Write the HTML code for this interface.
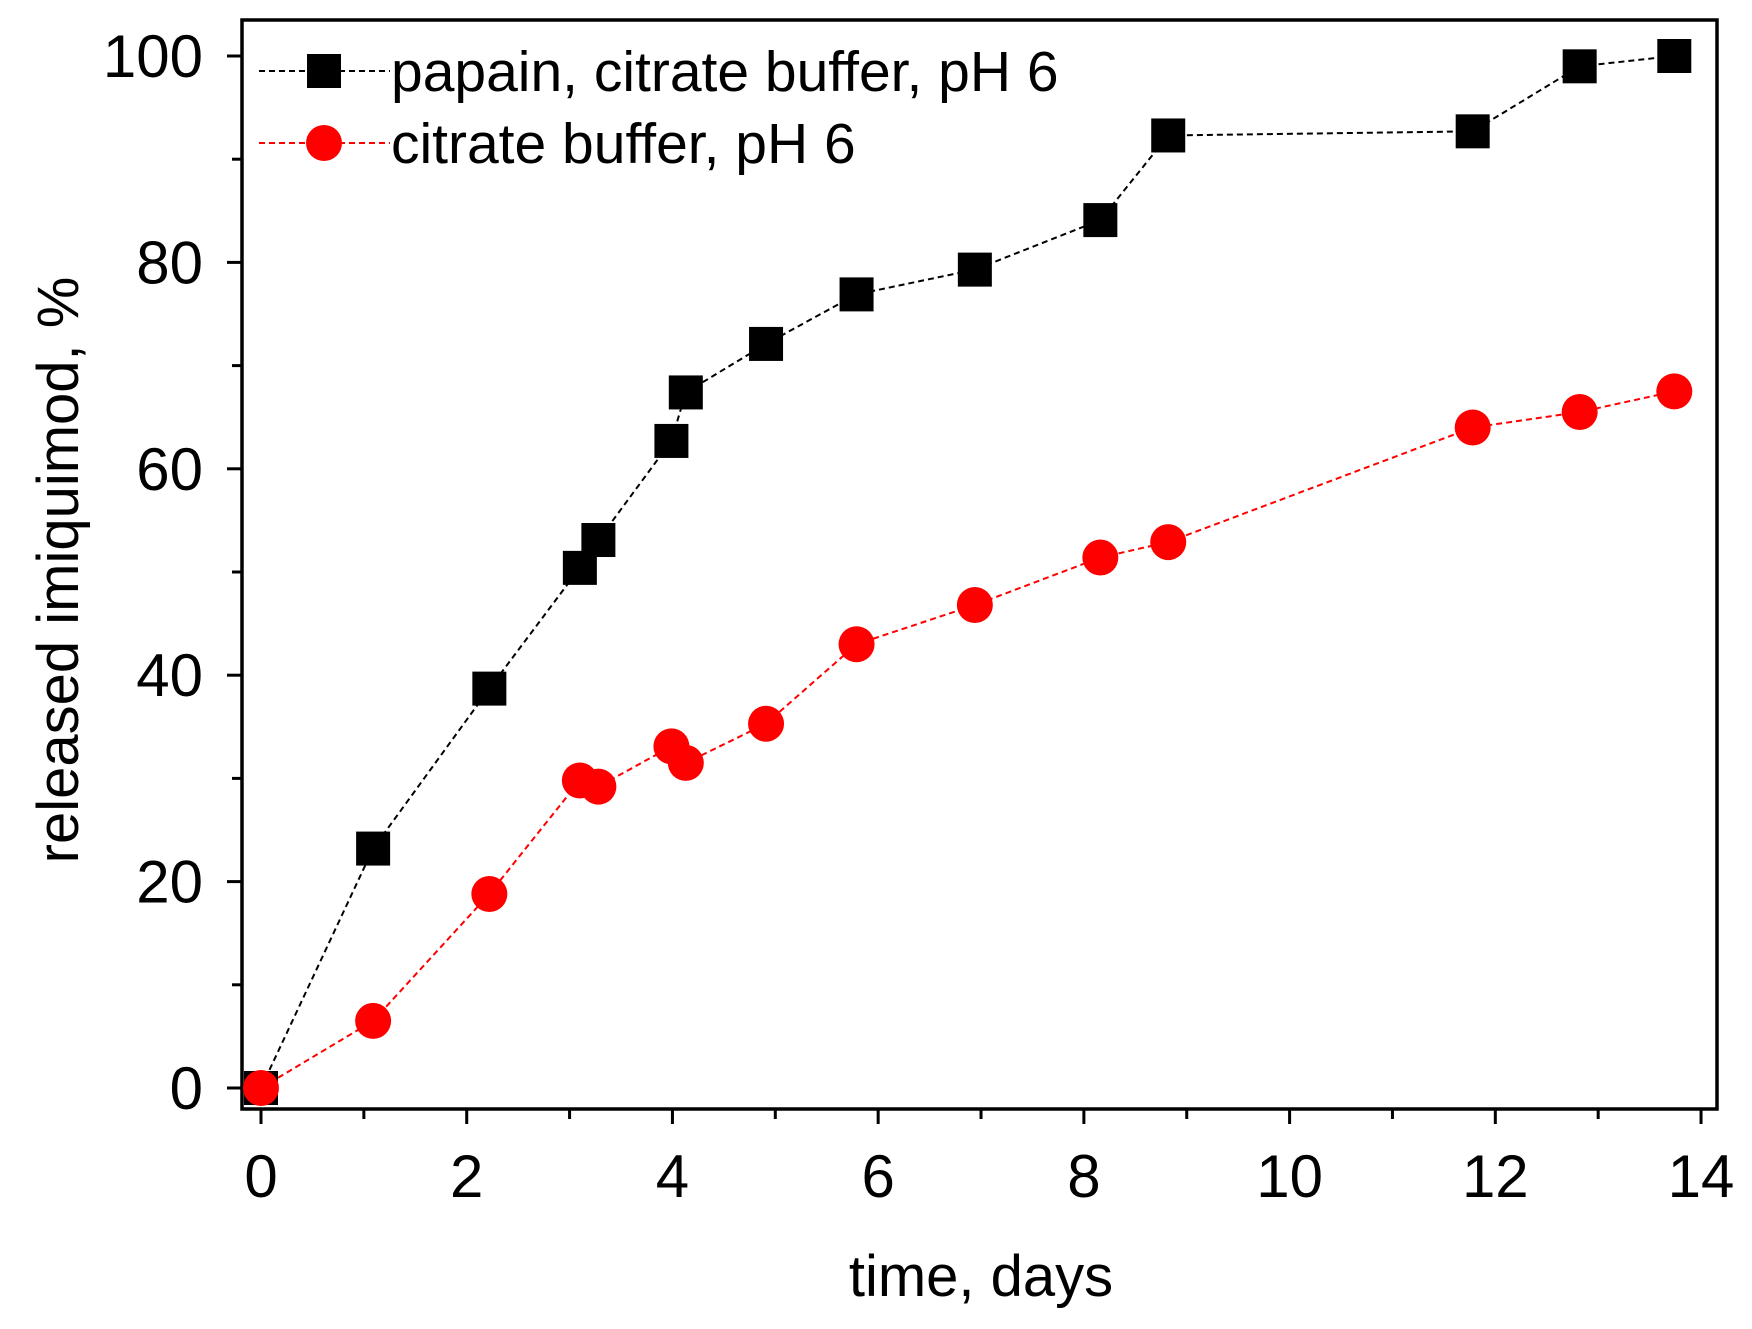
<!DOCTYPE html>
<html><head><meta charset="utf-8"><style>body{margin:0;background:#fff}svg{display:block}text{font-family:"Liberation Sans",Arial,sans-serif;fill:#000}</style></head>
<body>
<svg id="chart" width="1752" height="1329" viewBox="0 0 1752 1329" xmlns="http://www.w3.org/2000/svg"></svg>
<script>
const days = [0,1.09,2.22,3.1,3.28,3.99,4.13,4.91,5.79,6.94,8.16,8.82,11.78,12.82,13.74];
const papainSeries = [0,23.2,38.7,50.4,53.1,62.7,67.4,72.1,76.9,79.3,84.1,92.3,92.7,99,100];
const bufferSeries = [0,6.5,18.8,29.8,29.2,33.1,31.5,35.3,43,46.8,51.4,52.9,64,65.5,67.5];
const xTicks = [0,2,4,6,8,10,12,14];
const yTicks = [0,20,40,60,80,100];

const NS='http://www.w3.org/2000/svg', svg=document.getElementById('chart');
const L=242,R=1717,T=20,B=1109;
const xs=v=>261+v*102.86, ys=v=>1088-v*10.32;
function mk(tag,a,p){const e=document.createElementNS(NS,tag);for(const k in a)e.setAttribute(k,a[k]);(p||svg).appendChild(e);return e;}
const frame=mk('rect',{x:L,y:T,width:R-L,height:B-T,fill:'none',stroke:'#000','stroke-width':3.5});


for(let v=0;v<=14;v++){const t=mk('line',{x1:xs(v),x2:xs(v),y1:B,y2:B+(v%2?10:15),stroke:'#000','stroke-width':3});

}
xTicks.forEach(v=>{const t=mk('text',{x:xs(v),y:1197,'font-size':60,'text-anchor':'middle'});t.textContent=v;

});
for(let v=0;v<=100;v+=10){const t=mk('line',{x1:L,x2:L-(v%20?10:15),y1:ys(v),y2:ys(v),stroke:'#000','stroke-width':3});

}
yTicks.forEach(v=>{const t=mk('text',{x:203,y:ys(v)+21,'font-size':60,'text-anchor':'end'});t.textContent=v;

});
const xt=mk('text',{x:981,y:1296,'font-size':58,'text-anchor':'middle'});xt.textContent='time, days';


const yt=mk('text',{x:0,y:0,'font-size':58,'text-anchor':'middle',transform:'translate(78,570) rotate(-90)'});yt.textContent='released imiquimod, %';


function series(vals,color,shape,name){
 const g=mk('g',{});
 
 
 mk('polyline',{points:days.map((d,i)=>xs(d)+','+ys(vals[i])).join(' '),fill:'none',stroke:color,'stroke-width':2,'stroke-dasharray':'6,4'},g);
 days.forEach((d,i)=>{let m;
  if(shape==='sq')m=mk('rect',{x:xs(d)-17,y:ys(vals[i])-17,width:34,height:34,fill:color},g);
  else m=mk('circle',{cx:xs(d),cy:ys(vals[i]),r:18,fill:color},g);
  
  });
}
series(papainSeries,'#000','sq','papain-series');
series(bufferSeries,'#f00','ci','buffer-series');
function legend(y,color,shape,label,name){
 const g=mk('g',{});
 
 
 mk('line',{x1:259,x2:390,y1:y,y2:y,stroke:color,'stroke-width':2,'stroke-dasharray':'6,4'},g);
 if(shape==='sq')mk('rect',{x:307,y:y-17,width:34,height:34,fill:color},g);else mk('circle',{cx:324,cy:y,r:18,fill:color},g);
 const t=mk('text',{x:391,y:y+20,'font-size':57},g);t.textContent=label;
}
legend(71,'#000','sq','papain, citrate buffer, pH 6','legend-entry-papain');
legend(143,'#f00','ci','citrate buffer, pH 6','legend-entry-buffer');
</script>
</body></html>
